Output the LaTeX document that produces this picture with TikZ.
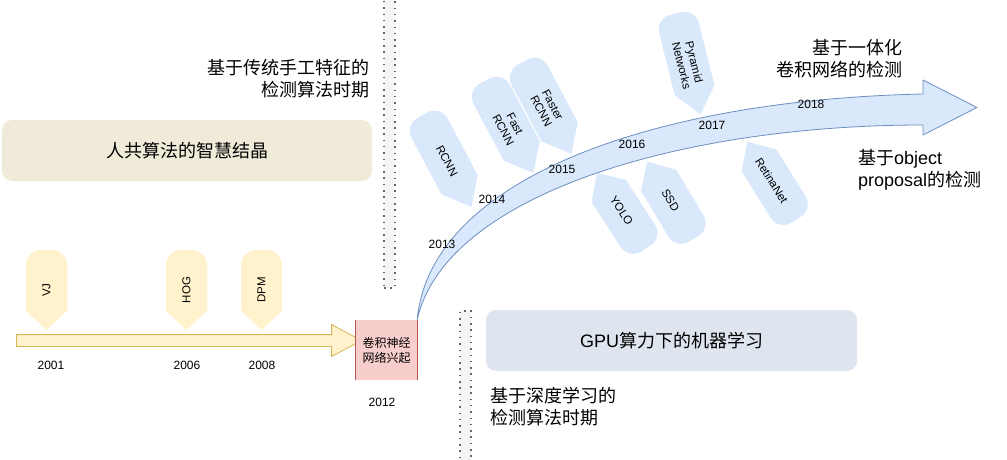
\documentclass[tikz,border=0pt]{standalone}
\usepackage{fontspec}
\setmainfont{Liberation Sans}
\newfontfamily\cjk{Noto Sans CJK SC}
\newfontfamily\lat{Liberation Sans}
\usetikzlibrary{shapes.arrows,positioning,calc}

\definecolor{beige}{RGB}{240,235,217}
\definecolor{slate}{RGB}{222,229,239}
\definecolor{yfill}{HTML}{FFF2CC}
\definecolor{ydraw}{HTML}{D6B656}
\definecolor{bfill}{HTML}{DAE8FC}
\definecolor{bdraw}{HTML}{6C8EBF}
\definecolor{rfill}{HTML}{F8CECC}
\definecolor{rdraw}{HTML}{B85450}
\definecolor{sepfill}{HTML}{F5F5F5}

% milestone tag: name, centre, tip angle, length, fill style, text angle, label
\newcommand{\mstag}[7]{%
  \begin{scope}[shift={#2}, rotate=#3]
    \fill[#5] ({#4/2},0) -- ({0.26*#4},20.5) [rounded corners=15pt] -- ({-#4/2},20.5)
      -- ({-#4/2},-20.5) [sharp corners] -- ({0.26*#4},-20.5) -- cycle;
  \end{scope}
  \node[tagtext, rotate=#6] (#1) at #2 {#7};
}

\begin{document}
\begin{tikzpicture}[
        x=1pt, y=-1pt,
        bigbox/.style={rectangle, rounded corners=10pt, minimum width=370pt, minimum height=61pt, inner sep=0pt, font=\cjk\fontsize{18}{22}\selectfont},
        sidenote/.style={inner sep=0pt, font=\cjk\fontsize{18}{22}\selectfont},
        year/.style={inner sep=0pt, font=\fontsize{12}{14}\selectfont},
        tagtext/.style={inner sep=0pt, align=center, font=\fontsize{11.5}{13}\selectfont},
        yellowtag/.style={fill=yfill},
        bluetag/.style={fill=bfill},
        divider/.style={rectangle, draw=black!60, fill=sepfill, line width=1.5pt, dash pattern=on 1.5pt off 4.8pt, minimum width=11pt, inner sep=0pt},
        risebox/.style={rectangle, fill=rfill, minimum width=61pt, minimum height=60pt, inner sep=0pt, align=center, font=\cjk\fontsize{12}{15}\selectfont},
        timeline/.style={single arrow, draw=ydraw, fill=yfill, line width=0.8pt, minimum height=345pt, inner sep=5.5pt, single arrow head extend=10pt, single arrow tip angle=56},
        curvearrow/.style={draw=bdraw, fill=bfill, line width=0.8pt, line join=round}
    ]
    \useasboundingbox (0,0) rectangle (1007,460);

    % era dividers
    \node[divider, minimum height=290pt] (sep1) at (389.5,143) {};
    \node[divider, minimum height=160pt] (sep2) at (465.5,391) {};

    % eras
    \node[bigbox, fill=beige] (hand) at (187,150.5) {人共算法的智慧结晶};
    \node[bigbox, fill=slate, minimum width=371pt] (gpu) at (671.5,340.5) {{\lat GPU}算力下的机器学习};

    % traditional timeline
    \node[timeline] (tl) at (183.5,340.5) {};
    \node[risebox] (rise) at (386.5,350) {卷积神经\\网络兴起};
    \draw[rdraw, line width=1pt] (rise.north west) -- (rise.south west) (rise.north east) -- (rise.south east);

    \mstag{vj}{(46.5,290)}{-90}{80}{yellowtag}{90}{VJ}
    \mstag{hog}{(186.5,290)}{-90}{80}{yellowtag}{90}{HOG}
    \mstag{dpm}{(261.5,290)}{-90}{80}{yellowtag}{90}{DPM}

    \node[year] (y01) at (51,365) {2001};
    \node[year] (y06) at (187,365) {2006};
    \node[year] (y08) at (262,365) {2008};
    \node[year] (y12) at (382,402) {2012};

    % deep learning timeline
    \coordinate (tip) at (977,107.5);
    \filldraw[curvearrow] (rise.north east) .. controls (430,180) and (650,100) .. (923,94)
        -- (923,80) -- (tip) -- (923,135) -- (923,125)
        .. controls (680,125) and (445,195) .. (rise.north east) -- cycle;

    \node[year] (y13) at (442,244) {2013};
    \node[year] (y14) at (492,199) {2014};
    \node[year] (y15) at (562,169) {2015};
    \node[year] (y16) at (632,144) {2016};
    \node[year] (y17) at (712,125) {2017};
    \node[year] (y18) at (811,104) {2018};

    % two-stage detectors
    \mstag{rcnn}{(447,161)}{-62}{104}{bluetag}{-62}{RCNN}
    \mstag{fast}{(509,127)}{-62}{104}{bluetag}{-62}{Fast\\RCNN}
    \mstag{faster}{(547,108)}{-62}{104}{bluetag}{-62}{Faster\\RCNN}
    \mstag{fpn}{(688,64)}{-76}{104}{bluetag}{-76}{Pyramid\\Networks}
    % one-stage detectors
    \mstag{yolo}{(621.5,210.7)}{123}{90}{bluetag}{-57}{YOLO}
    \mstag{ssd}{(670.5,200.3)}{121}{90}{bluetag}{-59}{SSD}
    \mstag{retina}{(771.7,180.7)}{122}{92}{bluetag}{-58}{RetinaNet}

    % period notes
    \node[sidenote, align=right, anchor=east] (trad) at (370,79) {基于传统手工特征的\\检测算法时期};
    \node[sidenote, align=left, anchor=west] (deep) at (490,407) {基于深度学习的\\检测算法时期};
    \node[sidenote, align=right, anchor=east] (onestage) at (903,59) {基于一体化\\卷积网络的检测};
    \node[sidenote, align=left, anchor=west] (twostage) at (858,170) {基于{\lat object}\\{\lat proposal}的检测};

\end{tikzpicture}
\end{document}
